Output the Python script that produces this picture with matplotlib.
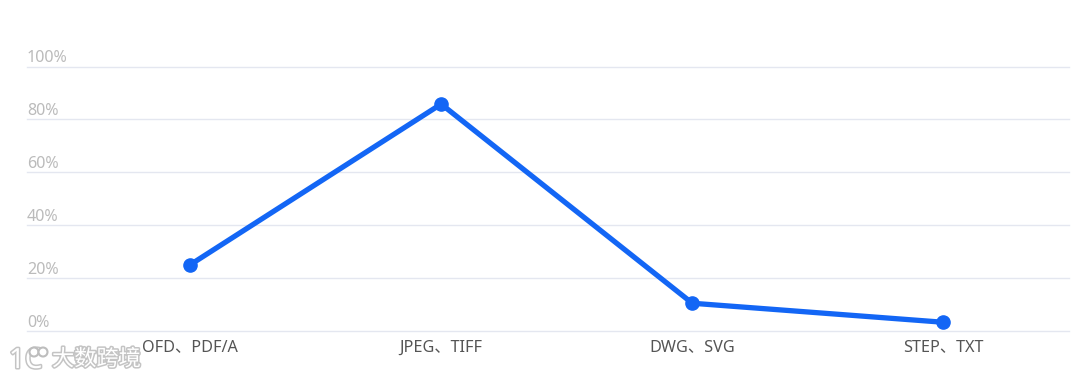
import matplotlib
matplotlib.use("Agg")
import matplotlib.pyplot as plt
import matplotlib.patheffects as pe
from matplotlib.patches import Ellipse

plt.rcParams['font.family'] = ['Noto Sans', 'Noto Sans CJK SC', 'DejaVu Sans']

categories = ['OFD、PDF/A', 'JPEG、TIFF', 'DWG、SVG', 'STEP、TXT']
values = [25, 85.8, 10.5, 3.3]
y_ticks = [0, 20, 40, 60, 80, 100]
y_labels = ['0%', '20%', '40%', '60%', '80%', '100%']

W, H = 1080, 380
fig = plt.figure(figsize=(W/100, H/100), dpi=100)
ax = fig.add_axes([27/W, 1-331/H, (1069-27)/W, (331-66.5)/H])

xpos = list(range(len(categories)))
ax.plot(xpos, values, color='#1366f5', linewidth=3.8, marker='o', markersize=9.5,
        solid_capstyle='round', clip_on=False, zorder=3)

ax.set_xlim(-0.649, 3.5)
ax.set_ylim(0, 100)
for s in ax.spines.values():
    s.set_visible(False)
ax.set_yticks(y_ticks)
ax.set_yticklabels([])
for t in y_ticks:
    ax.axhline(t, color='#e4e7f0', linewidth=1, clip_on=False, zorder=1)
ax.tick_params(length=0)
ax.set_xticks(xpos)
ax.set_xticklabels(categories, fontsize=11.7, color='#555555')
ax.tick_params(axis='x', pad=6)

# 目盛ラベルは線の上に左寄せ
for t, lab in zip(y_ticks, y_labels):
    ax.annotate(lab, (0, t), xycoords=('axes fraction', 'data'), xytext=(0, 0),
                textcoords='offset points', ha='left', va='bottom',
                fontsize=11.6, color='#bbbbbb')

# watermark
outline = [pe.withStroke(linewidth=2.2, foreground='#c4c4c4')]
fig.text(52/W, 1-360/H, '大数跨境', fontsize=16, color='white', ha='left', va='center',
         path_effects=outline)
fig.text(9/W, 1-361/H, '1C', fontsize=20, color='white', ha='left', va='center',
         path_effects=outline)
for cx in [34, 43]:
    fig.add_artist(Ellipse((cx/W, 1-352/H), 9/W, 9/H, transform=fig.transFigure,
                           facecolor='white', edgecolor='#bdbdbd', linewidth=1.5, zorder=5))

fig.savefig('out.png', dpi=100, facecolor='white')
